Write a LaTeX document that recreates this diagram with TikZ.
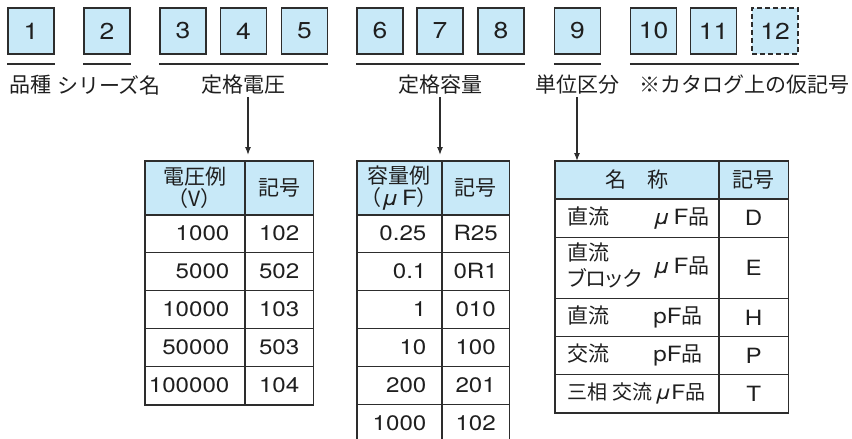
\documentclass[tikz,border=0pt]{standalone}
\usepackage{fontspec}
\setmainfont[FakeStretch=1.15]{TeX Gyre Heros}
\newfontfamily\jp{Noto Sans CJK JP}
\newfontfamily\jpp[RawFeature=+palt]{Noto Sans CJK JP}
\usetikzlibrary{arrows.meta,positioning,calc}
\definecolor{boxblue}{RGB}{200,233,248}
\definecolor{linegray}{RGB}{45,45,45}
\newcommand\uF{{\rmfamily\itshape μ}\,{\rmfamily F}}
\tikzset{
    numbox/.style={draw=linegray,fill=boxblue,line width=0.6pt,minimum size=23pt,inner sep=0pt,font=\fontsize{11.5}{12}\selectfont},
    uline/.style={draw=linegray,line width=1.1pt},
    lab/.style={font=\jp\fontsize{10.5}{12}\selectfont,inner sep=1pt},
    arr/.style={-{Latex[length=4pt,width=3pt]},draw=linegray,line width=0.6pt},
    cell/.style={draw=linegray,line width=0.4pt,anchor=north west,inner sep=0pt,font=\fontsize{10.5}{11}\selectfont},
    hcell/.style={cell,fill=boxblue,align=center,font=\jp\fontsize{10.5}{11}\selectfont},
    frame/.style={draw=linegray,line width=0.8pt}
}

\begin{document}
\begin{tikzpicture}[x=0.5pt,y=-0.5pt,text=black!88]
    \useasboundingbox (0,0) rectangle (852,439);
    \clip (0,0) rectangle (852,439);

    % code digits
    \foreach \n/\x in {1/31,2/107,3/183,4/243.5,5/304.5,6/380,7/440,8/501,9/577.5,10/653.5,11/713.5}
        \node[numbox] (b\n) at (\x,31) {\n};
    \node[numbox,dash pattern=on 2.5pt off 1.5pt] (b12) at (775,31) {12};

    \foreach \a/\b in {b1/b1,b2/b2,b3/b5,b6/b8,b9/b9,b10/b12}
        \draw[uline] ([yshift=-4.5pt]\a.south west) -- ([yshift=-4.5pt]\b.south east);

    \node[lab] (l1) at (31,85) {品種};
    \node[lab] (l2) at (109,85) {シリーズ名};
    \node[lab] (l3) at (243,85) {定格電圧};
    \node[lab] (l4) at (440,85) {定格容量};
    \node[lab] (l5) at (577,85) {単位区分};
    \node[lab] (l6) at (744,85) {※カタログ上の仮記号};

    % rated voltage
    \node[hcell,minimum width=49.5pt,minimum height=26.5pt] (t1h) at (145,161) {電圧例\\（V）};
    \node[hcell,minimum width=34pt,minimum height=26.5pt] (t1k) at (t1h.north east) {記号};
    \foreach \v/\c [count=\i] in {1000/102,5000/502,10000/103,50000/503,100000/104}{
        \node[cell,minimum width=49.5pt,minimum height=19pt,inner xsep=7.5pt] (t1v\i) at (145,{214+38*(\i-1)}) {\makebox[34.5pt][r]{\v}};
        \node[cell,minimum width=34pt,minimum height=19pt] (t1c\i) at (t1v\i.north east) {\c};
    }
    \draw[frame] (t1h.north west) rectangle (t1c5.south east);
    \draw[frame] (t1h.south west) -- (t1k.south east);

    % rated capacitance
    \node[hcell,minimum width=42pt,minimum height=26.5pt] (t2h) at (357,161) {容量例\\（\uF）};
    \node[hcell,minimum width=33.5pt,minimum height=26.5pt] (t2k) at (t2h.north east) {記号};
    \foreach \v/\c [count=\i] in {0.25/R25,0.1/0R1,1/010,10/100,200/201,1000/102}{
        \node[cell,minimum width=42pt,minimum height=19pt,inner xsep=7.5pt] (t2v\i) at (357,{214+38*(\i-1)}) {\makebox[27pt][r]{\v}};
        \node[cell,minimum width=33.5pt,minimum height=19pt] (t2c\i) at (t2v\i.north east) {\c};
    }
    \draw[frame] (t2h.north west) rectangle (t2c6.south east);
    \draw[frame] (t2h.south west) -- (t2k.south east);

    % unit class
    \node[hcell,minimum width=81.5pt,minimum height=18.5pt] (t3h) at (555,161) {名　称};
    \node[hcell,minimum width=34.5pt,minimum height=18.5pt] (t3k) at (t3h.north east) {記号};
    \foreach \y/\h/\n/\u/\c [count=\i] in {198/19.5/直流/\uF/D,
            237/30.5/{\begin{tabular}{@{}l@{}}直流\\[1pt]\jpp ブロック\end{tabular}}/\uF/E,
            298/19/直流/pF/H,336/19/交流/pF/P}{
        \node[cell,minimum width=81.5pt,minimum height=\h pt,inner xsep=6pt] (t3n\i) at (555,\y)
            {\makebox[69.5pt][l]{\makebox[43pt][l]{\jp\n}\u{\jp 品}}};
        \node[cell,minimum width=34.5pt,minimum height=\h pt] (t3c\i) at (t3n\i.north east) {\c};
    }
    \node[cell,minimum width=81.5pt,minimum height=19pt,inner xsep=6pt] (t3n5) at (555,374)
        {\makebox[69.5pt][l]{\fontsize{10}{11}\selectfont{\jp 三相\hspace{2.5pt}交流}\hspace{1.5pt}{\rmfamily\itshape μ}{\rmfamily F}{\jp 品}}};
    \node[cell,minimum width=34.5pt,minimum height=19pt] (t3c5) at (t3n5.north east) {T};
    \draw[frame] (t3h.north west) rectangle (t3c5.south east);
    \draw[frame] (t3h.south west) -- (t3k.south east);

    % arrows
    \coordinate (a1) at ([xshift=2.5pt]l3.south);
    \draw[arr,shorten >=3pt] (a1) -- (a1 |- t1h.north);
    \draw[arr,shorten >=3pt] (l4.south) -- (l4.south |- t2h.north);
    \draw[arr] (l5.south) -- (l5.south |- t3h.north);
\end{tikzpicture}
\end{document}
